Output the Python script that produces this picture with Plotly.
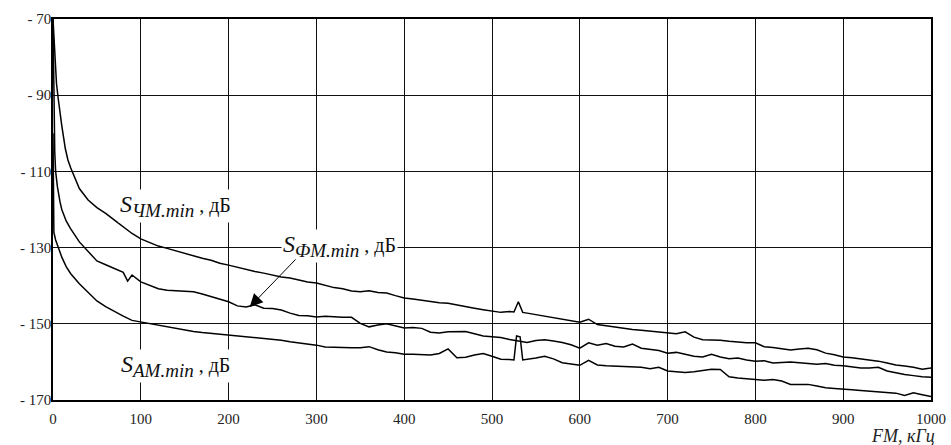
import plotly.graph_objects as go

# ---- data ----
F_CHM = [0, 2, 4, 6, 8, 10, 12, 14, 17, 20, 30, 40, 50, 60, 70, 80, 90, 100, 110, 120, 130, 140, 150,
         160, 170, 180, 190, 200, 210, 220, 230, 240, 250, 260, 270, 280, 290, 300, 310, 320, 330,
         340, 350, 360, 370, 380, 390, 400, 410, 420, 430, 440, 450, 460, 470, 480, 490, 500, 510,
         520, 525, 530, 535, 540, 550, 560, 570, 580, 590, 600, 610, 620, 630, 640, 650, 660, 670,
         680, 690, 700, 710, 720, 730, 740, 750, 760, 770, 780, 790, 800, 810, 820, 830, 840, 850,
         860, 870, 880, 890, 900, 910, 920, 930, 940, 950, 960, 970, 980, 990, 1000]
S_CHM = [-70, -80, -87, -91, -95, -98, -101, -104, -107, -109, -114.5, -117.5, -119.5, -121, -122.8,
         -124.5, -126.3, -127.7, -128.6, -129.6, -130.2, -130.9, -131.5, -132.2, -132.8, -133.3,
         -134.1, -134.6, -135.2, -135.6, -136.3, -136.7, -137.3, -137.7, -138.0, -138.6, -139.0,
         -139.3, -139.8, -140.5, -140.8, -141.4, -141.6, -141.3, -141.8, -141.9, -142.6, -143.2,
         -143.5, -143.9, -144.2, -144.5, -144.6, -145.1, -145.6, -145.9, -146.3, -146.6, -147.0,
         -146.8, -146.9, -144.2, -147.0, -147.2, -147.6, -148.1, -148.5, -148.9, -149.4, -149.6,
         -148.8, -150.2, -150.5, -150.9, -151.2, -151.5, -151.7, -151.9, -152.2, -152.4, -152.6,
         -152.1, -153.5, -154.2, -154.3, -154.3, -154.6, -154.8, -155.0, -155.0, -156.0, -156.2,
         -156.5, -156.9, -156.6, -156.4, -156.8, -157.7, -158.1, -158.7, -158.9, -159.2, -159.5,
         -159.8, -160.3, -160.8, -161.1, -161.4, -161.9, -161.6]

F_FM = [0, 1, 2, 3, 5, 8, 10, 15, 20, 30, 40, 50, 60, 70, 80, 85, 90, 100, 110, 120, 130, 140, 150,
        160, 170, 180, 190, 200, 210, 220, 230, 240, 250, 260, 270, 280, 290, 300, 310, 320, 330,
        340, 350, 360, 370, 380, 390, 400, 410, 420, 430, 440, 450, 460, 470, 480, 490, 500, 510,
        520, 530, 540, 550, 560, 570, 580, 590, 600, 610, 620, 630, 640, 650, 660, 670, 680, 690,
        700, 710, 720, 730, 740, 750, 760, 770, 780, 790, 800, 810, 820, 830, 840, 850, 860, 870,
        880, 890, 900, 910, 920, 930, 940, 950, 960, 970, 980, 990, 1000]
S_FM = [-70, -90, -105, -110, -114, -118, -120, -123, -125, -128.5, -131, -133.5, -134.5, -135.5,
        -136.5, -138.8, -137.2, -139, -140, -140.8, -141.2, -141.3, -141.5, -141.6, -142.2, -142.8,
        -143.5, -144.2, -145.3, -145.6, -145.0, -145.9, -146.0, -146.4, -147.2, -147.8, -147.9,
        -148.2, -148.0, -148.2, -148.3, -148.3, -149.9, -150.8, -150.3, -150.0, -150.5, -151.1,
        -151.0, -151.2, -152.2, -152.4, -152.1, -152.0, -152.0, -152.6, -153.2, -153.4, -153.6,
        -154.1, -154.5, -154.9, -154.4, -154.2, -154.5, -154.9, -155.5, -156.4, -155.0, -155.6,
        -155.2, -155.9, -156.1, -155.3, -156.4, -156.7, -157.0, -157.7, -157.5, -158.0, -158.5,
        -158.7, -158.0, -158.7, -159.2, -159.0, -159.5, -159.8, -159.7, -160.3, -160.1, -160.0,
        -160.2, -160.4, -160.6, -160.4, -160.9, -161.0, -161.3, -161.6, -161.6, -161.4, -162.4,
        -162.9, -163.3, -163.6, -163.9, -164.0]

F_AM = [0, 1, 3, 6, 10, 15, 20, 30, 40, 50, 60, 70, 80, 90, 100, 110, 120, 130, 140, 150, 160, 170,
        180, 190, 200, 210, 220, 230, 240, 250, 260, 270, 280, 290, 300, 310, 320, 330, 340, 350,
        360, 370, 380, 390, 400, 410, 420, 430, 440, 450, 460, 470, 480, 490, 500, 510, 520, 525,
        528, 532, 535, 540, 550, 560, 570, 580, 590, 600, 610, 620, 630, 640, 650, 660, 670, 680,
        690, 700, 710, 720, 730, 740, 750, 760, 770, 780, 790, 800, 810, 820, 830, 840, 850, 860,
        870, 880, 890, 900, 910, 920, 930, 940, 950, 960, 970, 980, 990, 1000]
S_AM = [-100, -126, -128, -130, -132.5, -135, -136.8, -139.5, -141.7, -144.0, -145.5, -146.8, -148.0,
        -149.1, -149.5, -150.0, -150.5, -150.9, -151.3, -151.6, -152.0, -152.3, -152.5, -152.7,
        -152.9, -153.1, -153.3, -153.5, -153.7, -154.0, -154.3, -154.7, -155.0, -155.3, -155.6,
        -156.1, -156.2, -156.2, -156.3, -156.3, -156.0, -156.8, -157.4, -157.6, -158.0, -158.0,
        -158.1, -158.2, -157.8, -156.6, -158.9, -158.8, -158.2, -157.8, -158.5, -159.3, -159.4,
        -159.5, -153.2, -153.4, -159.5, -159.4, -159.0, -158.5, -159.2, -160.2, -160.6, -160.9,
        -159.6, -160.8, -161.0, -161.1, -161.1, -161.2, -161.4, -161.8, -161.4, -162.4, -162.6,
        -162.8, -162.6, -162.3, -161.9, -162.0, -163.9, -164.2, -164.4, -164.7, -164.8, -164.6,
        -165.0, -165.9, -165.9, -165.9, -166.3, -166.8, -167.0, -167.1, -167.3, -167.5, -167.7,
        -167.9, -168.0, -168.2, -168.8, -168.1, -168.6, -169.1]

X_TICKS = [0, 100, 200, 300, 400, 500, 600, 700, 800, 900, 1000]
Y_TICKS = [-70, -90, -110, -130, -150, -170]
Y_TICK_TEXT = ["- 70", "- 90", "- 110", "- 130", "- 150", "- 170"]

SERIF = "Liberation Serif, Times New Roman, serif"

fig = go.Figure()
for fx, sy in [(F_CHM, S_CHM), (F_FM, S_FM), (F_AM, S_AM)]:
    fig.add_trace(go.Scatter(x=fx, y=sy, mode="lines",
                             line=dict(color="black", width=1.5),
                             showlegend=False, hoverinfo="skip"))

fig.update_xaxes(range=[0, 1000], tickvals=X_TICKS, showgrid=True, gridcolor="#111",
                 gridwidth=1.4, zeroline=False, showline=True, linecolor="black",
                 linewidth=1.5, mirror=True, ticks="", ticklabelstandoff=4, automargin=False,
                 tickfont=dict(family=SERIF, size=15, color="#222"))
fig.update_yaxes(range=[-170, -70], tickvals=Y_TICKS, ticktext=Y_TICK_TEXT, showgrid=True,
                 gridcolor="#111", gridwidth=1.4, zeroline=False, showline=True,
                 linecolor="black", linewidth=1.5, mirror=True, ticks="", ticklabelstandoff=-3,
                 automargin=False, tickfont=dict(family=SERIF, size=15, color="#222"))

lab_font = dict(family=SERIF, size=24, color="#111")
SUB = "<sub><span style='font-size:19px'><i>{}</i></span></sub>"
TAIL = "<span style='font-size:20px'> , дБ</span>"
labels = [
    ("<i>S</i>" + SUB.format("ЧМ.min") + TAIL, 139, -119.1),
    ("<i>S</i>" + SUB.format("ФМ.min") + TAIL, 326, -129.6),
    ("<i>S</i>" + SUB.format("АМ.min") + TAIL, 140, -161.1),
]
for txt, lx, ly in labels:
    fig.add_annotation(x=lx, y=ly, xref="x", yref="y", text=txt, showarrow=False,
                       font=lab_font, bgcolor="white", borderpad=1)

# arrow from the ФМ label to its curve
fig.add_annotation(x=224, y=-145.6, ax=278, ay=-132.7, xref="x", yref="y",
                   axref="x", ayref="y", text="", showarrow=True, arrowhead=2,
                   arrowsize=2.6, arrowwidth=1, arrowcolor="black")

fig.add_annotation(x=1.007, y=-0.094, xref="paper", yref="paper", text="<i>FM, кГц</i>",
                   showarrow=False, xanchor="right", yanchor="middle",
                   font=dict(family=SERIF, size=18, color="#222"))

fig.update_layout(width=951, height=445, margin=dict(l=53, r=20, t=19, b=45),
                  paper_bgcolor="white", plot_bgcolor="white")

fig.write_html("out.html", config={"displayModeBar": False},
               post_script="document.body.style.margin='0';"
                           "document.body.style.overflow='hidden';")
